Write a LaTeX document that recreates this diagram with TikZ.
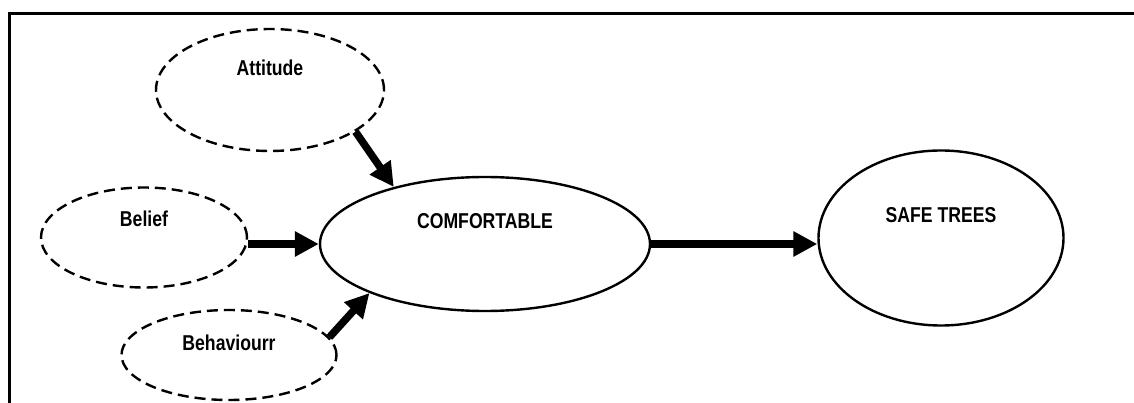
\documentclass[tikz,border=0pt]{standalone}
\usepackage{fontspec}
\newfontfamily\narrowfont[FakeStretch=0.82]{Liberation Sans}
\usetikzlibrary{shapes.geometric,arrows.meta}
\begin{document}
\begin{tikzpicture}[x=1pt,y=-1pt,
  lbl/.style={font=\narrowfont\bfseries\fontsize{21.5}{25}\selectfont, text height=15pt},
  dashedell/.style={ellipse, draw, dashed, dash pattern=on 11pt off 6pt, line width=2.4pt, inner sep=0pt, lbl},
  solidell/.style={ellipse, draw, line width=2.4pt, inner sep=0pt, lbl},
  bigarrow/.style={line width=7.5pt, -{Triangle[length=24pt,width=24pt]}},
  frameline/.style={line width=3pt}
]
\useasboundingbox (0,0) rectangle (1134,403);
\coordinate (fbl) at (9,405);
\coordinate (ftl) at (9,13.5);
\coordinate (ftr) at (1136,13.5);
\draw[frameline] (fbl) -- (ftl) -- (ftr);

\node[dashedell, minimum width=228pt, minimum height=122pt, text depth=43pt] (att) at (270,90) {Attitude};
\node[dashedell, minimum width=206pt, minimum height=100pt, text depth=36pt] (bel) at (144,237.5) {Belief};
\node[dashedell, minimum width=215pt, minimum height=90pt, text depth=25pt] (beh) at (229,355) {Behaviourr};
\node[solidell, minimum width=330pt, minimum height=134pt, text depth=45pt] (com) at (485,244) {COMFORTABLE};
\node[solidell, minimum width=245pt, minimum height=175pt, text depth=45pt] (saf) at (941,238) {SAFE TREES};

\draw[bigarrow] (att.-26) -- (com.148);
\draw[bigarrow] (bel.east |- com.west) -- (com.west);
\draw[bigarrow] (beh.10) -- (com.203);
\draw[bigarrow] (com.east) -- (com.east -| saf.west);
\end{tikzpicture}
\end{document}
